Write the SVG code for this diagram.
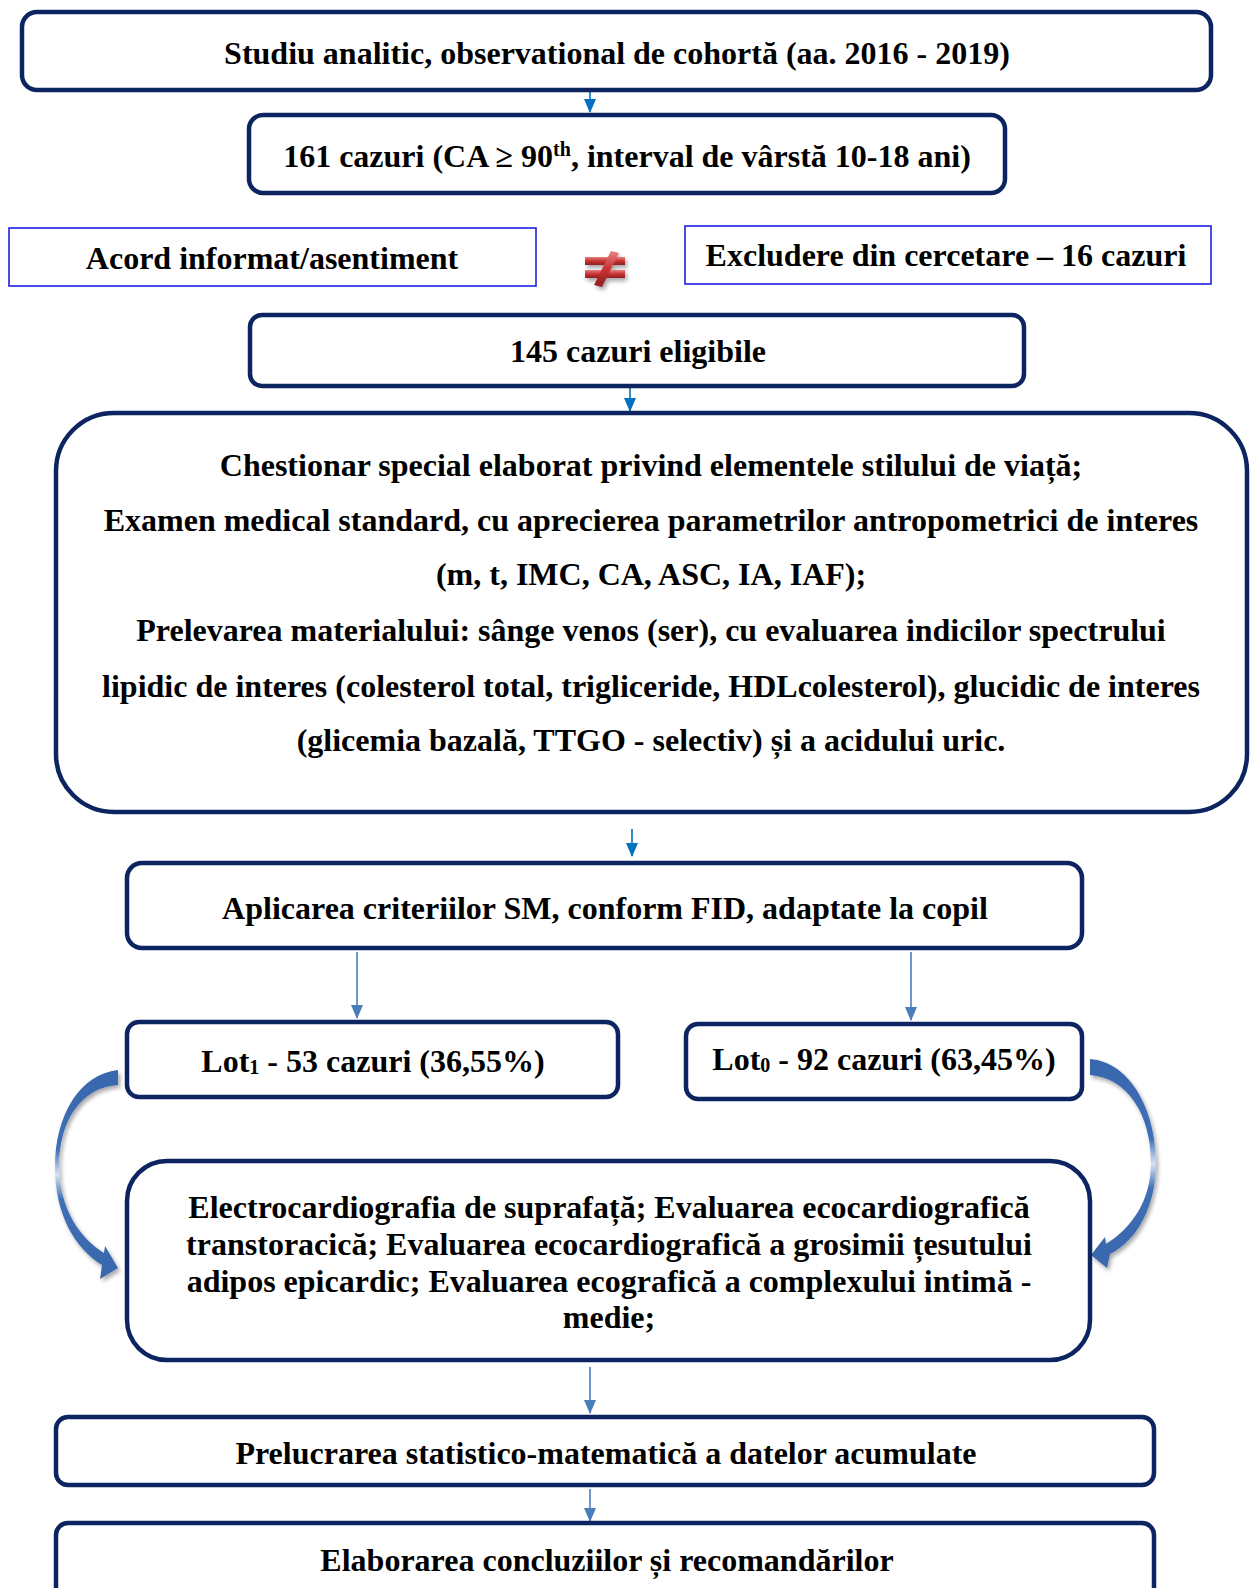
<svg xmlns="http://www.w3.org/2000/svg" width="1254" height="1588" viewBox="0 0 1254 1588">
<defs>
<style>
.box{fill:#ffffff;stroke:#0c2560;stroke-width:4.5}
.thin{fill:#ffffff;stroke:#1f1fe0;stroke-width:1.6}
.t{font-family:"Liberation Serif","Times New Roman",serif;font-weight:bold;font-size:32px;fill:#000;text-anchor:middle}
.c1{stroke:#0070c0;stroke-width:1.6;fill:none}
.c2{stroke:#4a7ebb;stroke-width:1.6;fill:none}
</style>
<marker id="h1" markerUnits="userSpaceOnUse" markerWidth="14" markerHeight="12" refX="13" refY="6" orient="auto" viewBox="0 0 14 12">
<path d="M0,0 L14,6 L0,12 Z" fill="#0070c0"/>
</marker>
<marker id="h2" markerUnits="userSpaceOnUse" markerWidth="14" markerHeight="12" refX="13" refY="6" orient="auto" viewBox="0 0 14 12">
<path d="M0,0 L14,6 L0,12 Z" fill="#4a7ebb"/>
</marker>
<linearGradient id="gl" x1="0" y1="0" x2="0" y2="1">
<stop offset="0" stop-color="#3867ad"/>
<stop offset="0.38" stop-color="#3f6fb5"/>
<stop offset="0.5" stop-color="#d6e2f3"/>
<stop offset="0.62" stop-color="#3f6fb5"/>
<stop offset="1" stop-color="#3867ad"/>
</linearGradient>
<linearGradient id="rd" x1="0" y1="0" x2="0" y2="1">
<stop offset="0" stop-color="#e88080"/>
<stop offset="0.5" stop-color="#c83232"/>
<stop offset="1" stop-color="#8e1f1f"/>
</linearGradient>
<filter id="sh" x="-20%" y="-20%" width="140%" height="140%">
<feGaussianBlur in="SourceAlpha" stdDeviation="2"/>
<feOffset dx="2" dy="3"/>
<feComponentTransfer><feFuncA type="linear" slope="0.35"/></feComponentTransfer>
<feMerge><feMergeNode/><feMergeNode in="SourceGraphic"/></feMerge>
</filter>
</defs>
<rect width="1254" height="1588" fill="#ffffff"/>

<g id="connectors">
<line class="c1" x1="590" y1="91" x2="590" y2="112" marker-end="url(#h1)"/>
<line class="c1" x1="630" y1="387" x2="630" y2="411" marker-end="url(#h1)"/>
<line class="c1" x1="632" y1="829" x2="632" y2="856" marker-end="url(#h1)"/>
<line class="c2" x1="357" y1="952" x2="357" y2="1018" marker-end="url(#h2)"/>
<line class="c2" x1="911" y1="952" x2="911" y2="1020" marker-end="url(#h2)"/>
<line class="c2" x1="590" y1="1367" x2="590" y2="1413" marker-end="url(#h2)"/>
<line class="c2" x1="590" y1="1489" x2="590" y2="1521" marker-end="url(#h2)"/>
<path id="curve-left" filter="url(#sh)" fill="url(#gl)" d="M118,1070 C80,1074 55,1115 55,1167 C55,1215 75,1248 102,1265 L100,1279 L118,1268 L105,1246 L104,1253 C80,1238 60,1210 59,1167 C59,1120 82,1087 118,1085 Z"/>
<path id="curve-right" filter="url(#sh)" fill="url(#gl)" d="M1090,1059 C1130,1062 1156,1110 1156,1163 C1156,1205 1138,1240 1110,1254 L1107,1268 L1091,1255 L1105,1237 L1106,1244 C1132,1228 1151,1200 1151,1163 C1151,1115 1128,1078 1090,1075 Z"/>
</g>

<g id="n1">
<rect class="box" x="22" y="12" width="1189" height="78" rx="15"/>
<text class="t" x="617" y="64">Studiu analitic, observational de cohortă (aa. 2016 - 2019)</text>
</g>
<g id="n2">
<rect class="box" x="249" y="115" width="756" height="78" rx="14"/>
<text class="t" x="627" y="167">161 cazuri (CA ≥ 90<tspan font-size="20" dy="-11">th</tspan><tspan dy="11">, interval de vârstă 10-18 ani)</tspan></text>
</g>
<g id="n3">
<rect class="thin" x="9" y="228" width="527" height="58"/>
<text class="t" x="272" y="269">Acord informat/asentiment</text>
</g>
<g id="neq">
<g filter="url(#sh)">
<rect x="585" y="257" width="40" height="8" fill="url(#rd)"/>
<rect x="585" y="270" width="40" height="8" fill="url(#rd)"/>
<polygon points="611,251 619,253 602,287 594,285" fill="url(#rd)"/>
</g>
</g>
<g id="n4">
<rect class="thin" x="685" y="226" width="526" height="58"/>
<text class="t" x="946" y="266">Excludere din cercetare – 16 cazuri</text>
</g>
<g id="n5">
<rect class="box" x="250" y="315" width="774" height="71" rx="12"/>
<text class="t" x="638" y="362">145 cazuri eligibile</text>
</g>
<g id="n6">
<rect class="box" x="56" y="413" width="1191" height="399" rx="58"/>
<text class="t" x="651" y="476">Chestionar special elaborat privind elementele stilului de viață;</text>
<text class="t" x="651" y="531">Examen medical standard, cu aprecierea parametrilor antropometrici de interes</text>
<text class="t" x="651" y="585">(m, t, IMC, CA, ASC, IA, IAF);</text>
<text class="t" x="651" y="641">Prelevarea materialului: sânge venos (ser), cu evaluarea indicilor spectrului</text>
<text class="t" x="651" y="697">lipidic de interes (colesterol total, trigliceride, HDLcolesterol), glucidic de interes</text>
<text class="t" x="651" y="751">(glicemia bazală, TTGO - selectiv) și a acidului uric.</text>
</g>
<g id="n7">
<rect class="box" x="127" y="863" width="955" height="85" rx="15"/>
<text class="t" x="605" y="919">Aplicarea criteriilor SM, conform FID, adaptate la copil</text>
</g>
<g id="n8">
<rect class="box" x="127" y="1022" width="491" height="75" rx="12"/>
<text class="t" x="373" y="1072">Lot<tspan font-size="20" dy="2">1</tspan><tspan dy="-2"> - 53 cazuri (36,55%)</tspan></text>
</g>
<g id="n9">
<rect class="box" x="686" y="1024" width="396" height="75" rx="12"/>
<text class="t" x="884" y="1070">Lot<tspan font-size="20" dy="2">0</tspan><tspan dy="-2"> - 92 cazuri (63,45%)</tspan></text>
</g>
<g id="n10">
<rect class="box" x="127" y="1161" width="963" height="199" rx="40"/>
<text class="t" x="609" y="1218">Electrocardiografia de suprafață; Evaluarea ecocardiografică</text>
<text class="t" x="609" y="1255">transtoracică; Evaluarea ecocardiografică a grosimii țesutului</text>
<text class="t" x="609" y="1292">adipos epicardic; Evaluarea ecografică a complexului intimă -</text>
<text class="t" x="609" y="1328">medie;</text>
</g>
<g id="n11">
<rect class="box" x="56" y="1417" width="1098" height="68" rx="12"/>
<text class="t" x="606" y="1464">Prelucrarea statistico-matematică a datelor acumulate</text>
</g>
<g id="n12">
<rect class="box" x="56" y="1523" width="1098" height="90" rx="12"/>
<text class="t" x="607" y="1571">Elaborarea concluziilor și recomandărilor</text>
</g>
</svg>
